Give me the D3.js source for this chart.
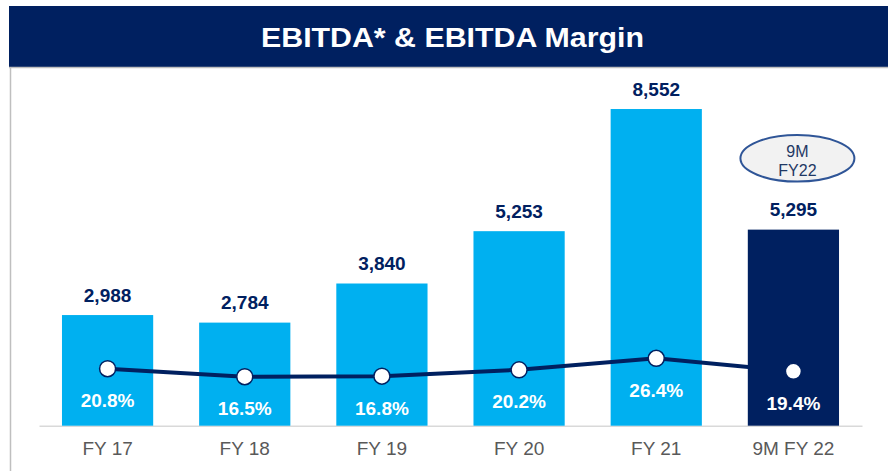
<!DOCTYPE html>
<html>
<head>
<meta charset="utf-8">
<script src="https://cdn.jsdelivr.net/npm/d3@7"></script>
<style>
  html, body { margin: 0; padding: 0; background: #ffffff; }
  svg { display: block; font-family: "Liberation Sans", Arial, sans-serif; }
</style>
</head>
<body>
<svg id="chart" width="888" height="471"></svg>
<script>
const categories = ["FY 17", "FY 18", "FY 19", "FY 20", "FY 21", "9M FY 22"];
const ebitda = [2988, 2784, 3840, 5253, 8552, 5295];
const ebitdaLabels = ["2,988", "2,784", "3,840", "5,253", "8,552", "5,295"];
const margin = [20.8, 16.5, 16.8, 20.2, 26.4, 19.4];
const marginLabels = ["20.8%", "16.5%", "16.8%", "20.2%", "26.4%", "19.4%"];
const title = "EBITDA* & EBITDA Margin";
const calloutLines = ["9M", "FY22"];

const navy = "#002060";
const lightBlue = "#00b0f0";

const svg = d3.select("#chart");

// Title bar
svg.append("rect").attr("x", 9).attr("y", 6).attr("width", 879).attr("height", 61).attr("fill", navy);
svg.append("line").attr("x1", 9).attr("x2", 888).attr("y1", 67.5).attr("y2", 67.5)
  .attr("stroke", "#bfbfbf").attr("stroke-width", 1.5);
svg.append("line").attr("x1", 10.5).attr("x2", 10.5).attr("y1", 67).attr("y2", 471)
  .attr("stroke", "#bfbfbf").attr("stroke-width", 1.5);
svg.append("text").attr("x", 452.5).attr("y", 47).attr("text-anchor", "middle")
  .attr("fill", "#ffffff").attr("font-weight", "bold").attr("font-size", 28)
  .attr("textLength", 383).attr("lengthAdjust", "spacingAndGlyphs")
  .text(title);

// Scales
const x = d3.scaleBand().domain(categories).range([39, 862]).paddingInner(0.335).paddingOuter(0.1675);
const y = d3.scaleLinear().domain([0, 10000]).range([425.7, 55.4]);
const y2 = d3.scaleLinear().domain([0, 30]).range([407.4, 351.6]);

const last = categories.length - 1;

// Axis
const axis = svg.append("g").attr("transform", "translate(0,425.7)")
  .call(d3.axisBottom(x).tickSize(0).tickSizeOuter(0).tickPadding(16));
axis.select(".domain").attr("stroke", "#d9d9d9").attr("stroke-width", 1.5);
axis.selectAll("text").attr("font-size", 19).attr("fill", "#595959")
  .attr("font-family", "Liberation Sans, Arial, sans-serif");

// Light blue bars (full years)
const bars = svg.append("g");
bars.selectAll("rect.fy").data(categories.slice(0, last)).join("rect")
  .attr("x", d => x(d)).attr("width", x.bandwidth())
  .attr("y", (d, i) => y(ebitda[i])).attr("height", (d, i) => y(0) - y(ebitda[i]))
  .attr("fill", lightBlue);

// Margin line
const line = d3.line().x((d, i) => x(categories[i]) + x.bandwidth() / 2).y(d => y2(d));
svg.append("path").datum(margin).attr("d", line)
  .attr("fill", "none").attr("stroke", navy).attr("stroke-width", 4);

// 9M bar on top of line
svg.append("rect")
  .attr("x", x(categories[last])).attr("width", x.bandwidth())
  .attr("y", y(ebitda[last])).attr("height", y(0) - y(ebitda[last]))
  .attr("fill", navy);

// Points
svg.append("g").selectAll("circle").data(margin).join("circle")
  .attr("cx", (d, i) => x(categories[i]) + x.bandwidth() / 2)
  .attr("cy", d => y2(d)).attr("r", 8)
  .attr("fill", "#ffffff").attr("stroke", navy).attr("stroke-width", 1.5);

// Value labels
svg.append("g").selectAll("text").data(ebitda).join("text")
  .attr("x", (d, i) => x(categories[i]) + x.bandwidth() / 2)
  .attr("y", d => y(d) - 13.5)
  .attr("text-anchor", "middle").attr("font-size", 19).attr("font-weight", "bold")
  .attr("fill", navy).text((d, i) => ebitdaLabels[i]);

// Margin labels
svg.append("g").selectAll("text").data(margin).join("text")
  .attr("x", (d, i) => x(categories[i]) + x.bandwidth() / 2)
  .attr("y", d => y2(d) + 38.5)
  .attr("text-anchor", "middle").attr("font-size", 19).attr("font-weight", "bold")
  .attr("fill", "#ffffff").text((d, i) => marginLabels[i]);

// Callout ellipse
const cx = x(categories[last]) + x.bandwidth() / 2 + 4;
svg.append("ellipse").attr("cx", cx).attr("cy", 158.3).attr("rx", 57).attr("ry", 23.3)
  .attr("fill", "#f2f2f2").attr("stroke", "#2f5597").attr("stroke-width", 2);
svg.append("g").selectAll("text").data(calloutLines).join("text")
  .attr("x", cx).attr("y", (d, i) => 156.7 + i * 19)
  .attr("text-anchor", "middle").attr("font-size", 16).attr("fill", "#1f3864")
  .text(d => d);
</script>
</body>
</html>
